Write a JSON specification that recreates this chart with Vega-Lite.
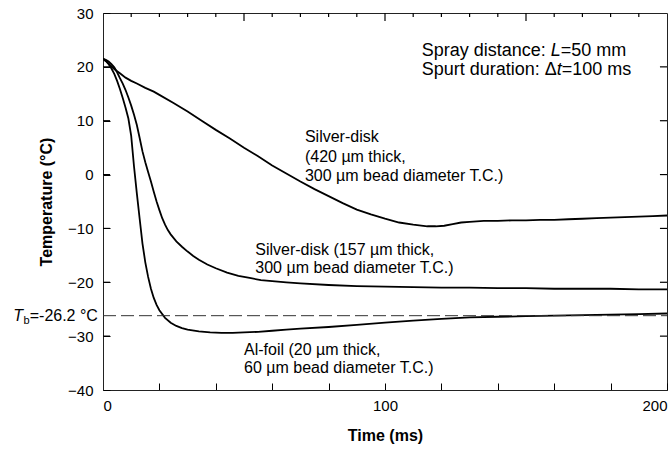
{
  "$schema": "https://vega.github.io/schema/vega-lite/v6.json",
  "width": 564,
  "height": 377,
  "autosize": {"type": "none"},
  "padding": {"left": 103, "top": 13, "right": 3, "bottom": 62},
  "background": "white",
  "config": {
    "font": "Liberation Sans",
    "view": {"stroke": "#222", "strokeWidth": 1},
    "axis": {
      "domainColor": "#222",
      "ticks": true,
      "tickColor": "black",
      "tickWidth": 1,
      "tickOpacity": 1,
      "labelColor": "black",
      "titleColor": "black",
      "labelFont": "Liberation Sans",
      "titleFont": "Liberation Sans",
      "labelFontSize": 15,
      "titleFontSize": 16,
      "titleFontWeight": "bold",
      "labelOverlap": false,
      "grid": false,
      "zindex": 1
    }
  },
  "datasets": {
    "curves": [
      {"s": "a", "t": 0, "T": 21.5}, {"s": "a", "t": 1, "T": 21.1}, {"s": "a", "t": 2, "T": 20.6}, {"s": "a", "t": 3, "T": 20.1}, {"s": "a", "t": 4, "T": 19.6}, {"s": "a", "t": 5, "T": 19.2}, {"s": "a", "t": 6, "T": 18.8}, {"s": "a", "t": 8, "T": 18.0}, {"s": "a", "t": 10, "T": 17.4}, {"s": "a", "t": 12, "T": 16.9}, {"s": "a", "t": 15, "T": 16.1}, {"s": "a", "t": 18, "T": 15.4}, {"s": "a", "t": 20, "T": 14.8}, {"s": "a", "t": 25, "T": 13.3}, {"s": "a", "t": 30, "T": 11.7}, {"s": "a", "t": 35, "T": 10.0}, {"s": "a", "t": 40, "T": 8.3}, {"s": "a", "t": 45, "T": 6.7}, {"s": "a", "t": 50, "T": 5.0}, {"s": "a", "t": 55, "T": 3.4}, {"s": "a", "t": 60, "T": 1.7}, {"s": "a", "t": 65, "T": 0.2}, {"s": "a", "t": 70, "T": -1.3}, {"s": "a", "t": 75, "T": -2.7}, {"s": "a", "t": 80, "T": -4.0}, {"s": "a", "t": 85, "T": -5.3}, {"s": "a", "t": 90, "T": -6.5}, {"s": "a", "t": 95, "T": -7.4}, {"s": "a", "t": 100, "T": -8.2}, {"s": "a", "t": 105, "T": -8.9}, {"s": "a", "t": 110, "T": -9.3}, {"s": "a", "t": 115, "T": -9.6}, {"s": "a", "t": 118, "T": -9.6}, {"s": "a", "t": 121, "T": -9.5}, {"s": "a", "t": 124, "T": -9.2}, {"s": "a", "t": 127, "T": -8.9}, {"s": "a", "t": 130, "T": -8.8}, {"s": "a", "t": 135, "T": -8.6}, {"s": "a", "t": 140, "T": -8.6}, {"s": "a", "t": 145, "T": -8.5}, {"s": "a", "t": 150, "T": -8.5}, {"s": "a", "t": 155, "T": -8.4}, {"s": "a", "t": 160, "T": -8.4}, {"s": "a", "t": 165, "T": -8.3}, {"s": "a", "t": 170, "T": -8.2}, {"s": "a", "t": 175, "T": -8.1}, {"s": "a", "t": 180, "T": -8.0}, {"s": "a", "t": 185, "T": -7.9}, {"s": "a", "t": 190, "T": -7.8}, {"s": "a", "t": 195, "T": -7.7}, {"s": "a", "t": 200, "T": -7.6},
      {"s": "b", "t": 0, "T": 21.5}, {"s": "b", "t": 1, "T": 21.3}, {"s": "b", "t": 2, "T": 21.0}, {"s": "b", "t": 3, "T": 20.5}, {"s": "b", "t": 4, "T": 19.9}, {"s": "b", "t": 5, "T": 19.0}, {"s": "b", "t": 6, "T": 17.9}, {"s": "b", "t": 7, "T": 16.9}, {"s": "b", "t": 8, "T": 15.7}, {"s": "b", "t": 9, "T": 14.3}, {"s": "b", "t": 10, "T": 12.8}, {"s": "b", "t": 11, "T": 11.1}, {"s": "b", "t": 12, "T": 9.2}, {"s": "b", "t": 13, "T": 6.8}, {"s": "b", "t": 14, "T": 4.3}, {"s": "b", "t": 15, "T": 2.3}, {"s": "b", "t": 16, "T": 0.5}, {"s": "b", "t": 17, "T": -1.3}, {"s": "b", "t": 18, "T": -3.2}, {"s": "b", "t": 19, "T": -5.0}, {"s": "b", "t": 20, "T": -6.6}, {"s": "b", "t": 21, "T": -8.1}, {"s": "b", "t": 22, "T": -9.3}, {"s": "b", "t": 23, "T": -10.3}, {"s": "b", "t": 24, "T": -11.1}, {"s": "b", "t": 26, "T": -12.4}, {"s": "b", "t": 28, "T": -13.4}, {"s": "b", "t": 30, "T": -14.3}, {"s": "b", "t": 32, "T": -15.1}, {"s": "b", "t": 34, "T": -15.8}, {"s": "b", "t": 37, "T": -16.7}, {"s": "b", "t": 40, "T": -17.4}, {"s": "b", "t": 44, "T": -18.2}, {"s": "b", "t": 48, "T": -18.8}, {"s": "b", "t": 52, "T": -19.2}, {"s": "b", "t": 56, "T": -19.6}, {"s": "b", "t": 60, "T": -19.8}, {"s": "b", "t": 65, "T": -20.0}, {"s": "b", "t": 70, "T": -20.2}, {"s": "b", "t": 80, "T": -20.5}, {"s": "b", "t": 90, "T": -20.7}, {"s": "b", "t": 100, "T": -20.8}, {"s": "b", "t": 110, "T": -20.9}, {"s": "b", "t": 120, "T": -21.0}, {"s": "b", "t": 130, "T": -21.0}, {"s": "b", "t": 140, "T": -21.1}, {"s": "b", "t": 150, "T": -21.1}, {"s": "b", "t": 160, "T": -21.2}, {"s": "b", "t": 170, "T": -21.2}, {"s": "b", "t": 180, "T": -21.2}, {"s": "b", "t": 190, "T": -21.3}, {"s": "b", "t": 200, "T": -21.3},
      {"s": "c", "t": 0, "T": 21.5}, {"s": "c", "t": 1, "T": 21.1}, {"s": "c", "t": 2, "T": 20.5}, {"s": "c", "t": 3, "T": 19.7}, {"s": "c", "t": 4, "T": 18.7}, {"s": "c", "t": 5, "T": 17.4}, {"s": "c", "t": 6, "T": 15.9}, {"s": "c", "t": 7, "T": 14.2}, {"s": "c", "t": 8, "T": 12.4}, {"s": "c", "t": 9, "T": 10.4}, {"s": "c", "t": 10, "T": 7.2}, {"s": "c", "t": 11, "T": 1.5}, {"s": "c", "t": 12, "T": -3.5}, {"s": "c", "t": 13, "T": -8.2}, {"s": "c", "t": 14, "T": -12.8}, {"s": "c", "t": 15, "T": -16.3}, {"s": "c", "t": 16, "T": -19.0}, {"s": "c", "t": 17, "T": -21.2}, {"s": "c", "t": 18, "T": -22.9}, {"s": "c", "t": 19, "T": -24.2}, {"s": "c", "t": 20, "T": -25.2}, {"s": "c", "t": 22, "T": -26.6}, {"s": "c", "t": 24, "T": -27.5}, {"s": "c", "t": 26, "T": -28.1}, {"s": "c", "t": 28, "T": -28.5}, {"s": "c", "t": 30, "T": -28.8}, {"s": "c", "t": 34, "T": -29.1}, {"s": "c", "t": 38, "T": -29.3}, {"s": "c", "t": 42, "T": -29.4}, {"s": "c", "t": 46, "T": -29.4}, {"s": "c", "t": 50, "T": -29.3}, {"s": "c", "t": 55, "T": -29.2}, {"s": "c", "t": 60, "T": -29.0}, {"s": "c", "t": 65, "T": -28.8}, {"s": "c", "t": 70, "T": -28.6}, {"s": "c", "t": 80, "T": -28.3}, {"s": "c", "t": 90, "T": -27.9}, {"s": "c", "t": 100, "T": -27.5}, {"s": "c", "t": 110, "T": -27.1}, {"s": "c", "t": 120, "T": -26.8}, {"s": "c", "t": 130, "T": -26.5}, {"s": "c", "t": 140, "T": -26.4}, {"s": "c", "t": 150, "T": -26.3}, {"s": "c", "t": 160, "T": -26.2}, {"s": "c", "t": 170, "T": -26.1}, {"s": "c", "t": 180, "T": -26.0}, {"s": "c", "t": 190, "T": -25.9}, {"s": "c", "t": 200, "T": -25.8}
    ],
    "yTicks": [{"v": -30}, {"v": -20}, {"v": -10}, {"v": 0}, {"v": 10}, {"v": 20}],
    "xMajor": [{"v": 50}, {"v": 100}, {"v": 150}],
    "xMinor": [{"v": 10}, {"v": 20}, {"v": 30}, {"v": 40}, {"v": 60}, {"v": 70}, {"v": 80}, {"v": 90}, {"v": 110}, {"v": 120}, {"v": 130}, {"v": 140}, {"v": 160}, {"v": 170}, {"v": 180}, {"v": 190}],
    "curveLabels": [
      {"t": 71.6, "T": 6.9, "text": "Silver-disk"},
      {"t": 71.6, "T": 3.35, "text": "(420 µm thick,"},
      {"t": 71.6, "T": -0.2, "text": "300 µm bead diameter T.C.)"},
      {"t": 54.0, "T": -14.0, "text": "Silver-disk (157 µm thick,"},
      {"t": 54.0, "T": -17.4, "text": "300 µm bead diameter T.C.)"},
      {"t": 50.0, "T": -32.6, "text": "Al-foil (20 µm thick,"},
      {"t": 50.0, "T": -36.0, "text": "60 µm bead diameter T.C.)"}
    ],
    "boxNormal": [
      {"t": 113, "T": 23.0, "text": "Spray distance: "},
      {"t": 113, "T": 19.5, "text": "Spurt duration: Δ"},
      {"t": 162.3, "T": 23.0, "text": "=50 mm"},
      {"t": 162.7, "T": 19.5, "text": "=100 ms"}
    ],
    "boxItalic": [
      {"t": 158.8, "T": 23.0, "text": "L"},
      {"t": 160.9, "T": 19.5, "text": "t"}
    ],
    "tbMain": [{"t": -1.8, "T": -26.2, "text": "=-26.2 °C"}],
    "tbT": [{"t": -28.4, "T": -26.2, "text": "T"}],
    "tbSub": [{"t": -28.2, "T": -27.2, "text": "b"}]
  },
  "layer": [
    {
      "data": {"name": "curves"},
      "mark": {"type": "line", "color": "black", "strokeWidth": 1.8, "clip": true},
      "encoding": {
        "x": {
          "field": "t", "type": "quantitative",
          "scale": {"domain": [0, 200], "nice": false, "zero": false},
          "axis": {
            "orient": "bottom",
            "title": "Time (ms)",
            "values": [0,10,20,30,40,50,60,70,80,90,100,110,120,130,140,150,160,170,180,190,200],
            "labelExpr": "datum.value % 50 === 0 ? datum.label : ''",
            "labelOverlap": false,
            "ticks": true,
            "tickSize": -7,
            "labelPadding": 15,
            "titlePadding": 14
          }
        },
        "y": {
          "field": "T", "type": "quantitative",
          "scale": {"domain": [-40, 30], "nice": false, "zero": false},
          "axis": {
            "orient": "left",
            "title": "Temperature (°C)",
            "values": [-40,-30,-20,-10,0,10,20,30],
            "labelOverlap": false,
            "ticks": true,
            "tickSize": -7,
            "labelPadding": 17,
            "titlePadding": 13
          }
        },
        "detail": {"field": "s"}
      }
    },
    {
      "data": {"values": [{}]},
      "mark": {"type": "rule", "color": "#333", "strokeWidth": 1, "strokeDash": [13, 5]},
      "encoding": {
        "x": {"datum": 0, "type": "quantitative"},
        "x2": {"datum": 200},
        "y": {"datum": -26.2, "type": "quantitative"}
      }
    },
    {
      "data": {"name": "yTicks"},
      "mark": {"type": "rule", "color": "black", "strokeWidth": 1.2},
      "encoding": {
        "y": {"field": "v", "type": "quantitative"},
        "x": {"datum": 0, "type": "quantitative"},
        "x2": {"datum": 2.5}
      }
    },
    {
      "data": {"name": "yTicks"},
      "mark": {"type": "rule", "color": "black", "strokeWidth": 1.2},
      "encoding": {
        "y": {"field": "v", "type": "quantitative"},
        "x": {"datum": 197.5, "type": "quantitative"},
        "x2": {"datum": 200}
      }
    },
    {
      "data": {"name": "xMajor"},
      "mark": {"type": "rule", "color": "black", "strokeWidth": 1.2},
      "encoding": {
        "x": {"field": "v", "type": "quantitative"},
        "y": {"datum": 30, "type": "quantitative"},
        "y2": {"datum": 28.5}
      }
    },
    {
      "data": {"name": "xMinor"},
      "mark": {"type": "rule", "color": "black", "strokeWidth": 1.2},
      "encoding": {
        "x": {"field": "v", "type": "quantitative"},
        "y": {"datum": 30, "type": "quantitative"},
        "y2": {"datum": 29.25}
      }
    },
    {
      "data": {"name": "curveLabels"},
      "mark": {"type": "text", "align": "left", "baseline": "middle", "fontSize": 16, "font": "Liberation Sans", "color": "black"},
      "encoding": {
        "x": {"field": "t", "type": "quantitative"},
        "y": {"field": "T", "type": "quantitative"},
        "text": {"field": "text"}
      }
    },
    {
      "data": {"name": "boxNormal"},
      "mark": {"type": "text", "align": "left", "baseline": "middle", "fontSize": 18, "font": "Liberation Sans", "color": "black"},
      "encoding": {
        "x": {"field": "t", "type": "quantitative"},
        "y": {"field": "T", "type": "quantitative"},
        "text": {"field": "text"}
      }
    },
    {
      "data": {"name": "boxItalic"},
      "mark": {"type": "text", "align": "left", "baseline": "middle", "fontSize": 18, "fontStyle": "italic", "font": "Liberation Sans", "color": "black"},
      "encoding": {
        "x": {"field": "t", "type": "quantitative"},
        "y": {"field": "T", "type": "quantitative"},
        "text": {"field": "text"}
      }
    },
    {
      "data": {"name": "tbMain"},
      "mark": {"type": "text", "align": "right", "baseline": "middle", "fontSize": 16, "font": "Liberation Sans", "color": "black"},
      "encoding": {
        "x": {"field": "t", "type": "quantitative"},
        "y": {"field": "T", "type": "quantitative"},
        "text": {"field": "text"}
      }
    },
    {
      "data": {"name": "tbT"},
      "mark": {"type": "text", "align": "right", "baseline": "middle", "fontSize": 16, "fontStyle": "italic", "font": "Liberation Sans", "color": "black"},
      "encoding": {
        "x": {"field": "t", "type": "quantitative"},
        "y": {"field": "T", "type": "quantitative"},
        "text": {"field": "text"}
      }
    },
    {
      "data": {"name": "tbSub"},
      "mark": {"type": "text", "align": "left", "baseline": "middle", "fontSize": 11, "font": "Liberation Sans", "color": "black"},
      "encoding": {
        "x": {"field": "t", "type": "quantitative"},
        "y": {"field": "T", "type": "quantitative"},
        "text": {"field": "text"}
      }
    }
  ]
}
